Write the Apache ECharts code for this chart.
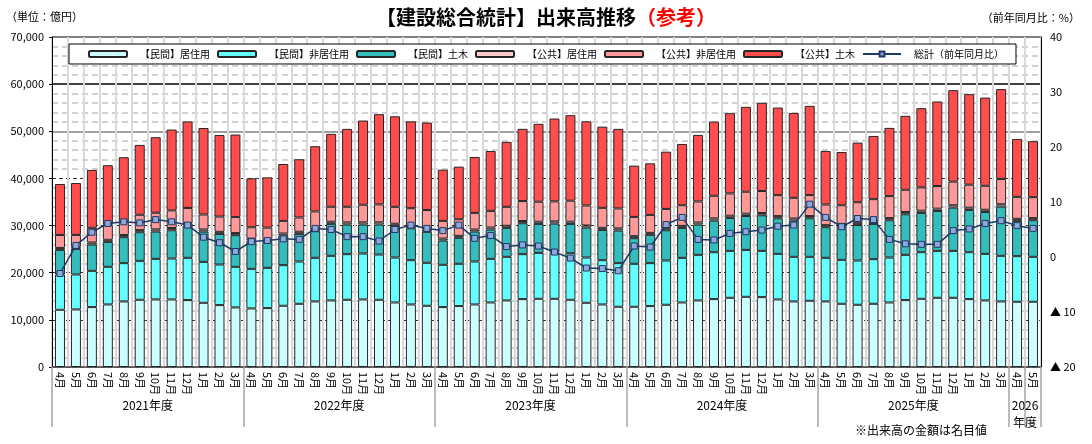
<!DOCTYPE html>
<html lang="ja">
<head>
<meta charset="utf-8">
<title>建設総合統計 出来高推移</title>
<script src="https://cdn.jsdelivr.net/npm/echarts@6/dist/echarts.min.js"></script>
<style>
  html, body { margin: 0; padding: 0; background: #fff; }
  #chart { width: 1092px; height: 444px; }
</style>
</head>
<body>
<div id="chart"></div>
<script>
// 月（2021年4月〜2026年5月）
const months = [
  '4月', '5月', '6月', '7月', '8月', '9月', '10月', '11月', '12月', '1月', '2月', '3月',
  '4月', '5月', '6月', '7月', '8月', '9月', '10月', '11月', '12月', '1月', '2月', '3月',
  '4月', '5月', '6月', '7月', '8月', '9月', '10月', '11月', '12月', '1月', '2月', '3月',
  '4月', '5月', '6月', '7月', '8月', '9月', '10月', '11月', '12月', '1月', '2月', '3月',
  '4月', '5月', '6月', '7月', '8月', '9月', '10月', '11月', '12月', '1月', '2月', '3月',
  '4月', '5月',
];
const fiscalYears = ['2021年度', '2022年度', '2023年度', '2024年度', '2025年度', '2026\n年度'];

// 出来高（億円）
const privateResidential = [
  12140, 12210, 12710, 13270, 13910, 14260, 14330, 14330, 14190, 13620, 13130, 12640,
  12420, 12490, 12990, 13410, 13910, 14120, 14260, 14330, 14260, 13690, 13270, 12990,
  12710, 12920, 13270, 13690, 14120, 14400, 14470, 14470, 14260, 13620, 13270, 12780,
  12780, 12920, 13200, 13690, 14120, 14400, 14680, 14890, 14820, 14330, 13910, 14050,
  13910, 13410, 13200, 13410, 13690, 14190, 14470, 14680, 14680, 14400, 14120, 13910,
  13840, 13840,
];
const privateNonResidential = [
  7480, 7410, 7690, 7980, 8120, 8260, 8610, 8680, 8970, 8680, 8610, 8610,
  8400, 8540, 8610, 8970, 9250, 9460, 9670, 9740, 9600, 9530, 9390, 9110,
  8970, 8970, 9110, 9250, 9250, 9530, 9740, 9810, 9880, 9600, 9390, 9250,
  9110, 9110, 9390, 9460, 9670, 9950, 9950, 9950, 9810, 9670, 9460, 9320,
  9250, 9320, 9390, 9460, 9530, 9600, 9880, 9950, 9950, 9950, 9880, 9670,
  9670, 9530,
];
const privateCivil = [
  5220, 5440, 5580, 5290, 5510, 6070, 5790, 6000, 6850, 6420, 6490, 6710,
  6000, 5510, 6280, 5860, 5650, 6780, 6280, 6140, 6350, 6710, 6780, 6570,
  5150, 5510, 6350, 6210, 6140, 6570, 6140, 6140, 6210, 6350, 6420, 6920,
  5440, 6000, 6420, 6350, 6420, 6710, 6990, 7200, 7550, 7550, 7690, 8190,
  6490, 7200, 7550, 7480, 7910, 8610, 8330, 8470, 9180, 8970, 8890, 10450,
  7480, 7770,
];
const publicResidential = [
  420, 420, 430, 440, 450, 450, 460, 470, 480, 450, 440, 450,
  420, 420, 430, 440, 450, 450, 460, 470, 480, 450, 440, 450,
  420, 420, 430, 440, 450, 460, 470, 470, 480, 450, 440, 450,
  420, 420, 430, 440, 450, 460, 470, 480, 490, 460, 450, 460,
  430, 430, 440, 450, 460, 470, 480, 490, 500, 480, 470, 490,
  440, 440,
];
const publicNonResidential = [
  2750, 2540, 3110, 3180, 2890, 3250, 3530, 3740, 3250, 3180, 3250, 3390,
  2400, 2610, 2680, 3040, 3740, 3180, 3320, 3740, 3810, 3600, 3810, 4170,
  3740, 3530, 3530, 3530, 4020, 4240, 4240, 4240, 4450, 4240, 4240, 4240,
  4090, 3810, 4090, 4380, 4450, 4800, 4730, 4660, 4660, 4450, 4380, 4450,
  4380, 3950, 4380, 4800, 4660, 4730, 4940, 4800, 5010, 4870, 5080, 5370,
  4660, 4450,
];
const publicCivil = [
  10800, 11010, 12280, 12640, 13620, 14820, 16020, 17150, 18350, 18350, 17300, 17510,
  10380, 10660, 12070, 12350, 13840, 15460, 16520, 17860, 19130, 19200, 18420, 18570,
  10870, 11150, 11860, 12710, 13770, 15320, 16520, 17580, 18140, 17860, 17220, 16870,
  10870, 10940, 12140, 12990, 14120, 15740, 17010, 18000, 18710, 18570, 18000, 18920,
  11370, 11290, 12640, 13410, 14470, 15670, 16800, 17930, 19410, 19200, 18710, 19060,
  12280, 11860,
];
// 総計の前年同月比（%）
const yoyChange = [
  -3.0, 2.1, 4.5, 6.1, 6.4, 6.2, 6.8, 6.4, 5.8, 3.6, 2.6, 1.0,
  2.8, 3.0, 3.3, 3.2, 5.2, 5.0, 3.7, 3.7, 2.9, 5.0, 5.8, 5.2,
  4.8, 5.8, 3.4, 3.9, 1.9, 2.2, 2.0, 0.9, -0.2, -2.0, -2.1, -2.5,
  2.0, 1.8, 5.9, 7.2, 3.2, 3.1, 4.3, 4.6, 4.9, 5.6, 5.8, 9.6,
  7.2, 5.5, 7.0, 6.8, 3.2, 2.4, 2.3, 2.3, 4.8, 5.1, 6.1, 6.6,
  5.7, 5.2,
];

const font = '"Noto Sans CJK JP", "Noto Sans", sans-serif';

// 年度の区切り（4月始まり）と年度ラベルの位置
const yearStarts = months.map((m, i) => (m === '4月' ? i : -1)).filter((i) => i >= 0);
const boundaries = yearStarts.concat([months.length]);
const yearAxisData = new Array(months.length + 1).fill('');
fiscalYears.forEach((label, k) => {
  const span = boundaries[k + 1] - boundaries[k];
  yearAxisData[boundaries[k] + Math.floor(span / 2)] = label;
});
const monthsPerYear = yearStarts[1] - yearStarts[0];

const barSeries = [
  ['【民間】居住用', privateResidential, '#CCFFFF'],
  ['【民間】非居住用', privateNonResidential, '#66FFFF'],
  ['【民間】土木', privateCivil, '#33BDBD'],
  ['【公共】居住用', publicResidential, '#FFCCCC'],
  ['【公共】非居住用', publicNonResidential, '#FF9999'],
  ['【公共】土木', publicCivil, '#FF4D4D'],
].map(([name, data, color]) => ({
  name,
  type: 'bar',
  stack: 'total',
  barWidth: 10,
  data,
  itemStyle: { color, borderColor: '#262626', borderWidth: 1 },
}));

const lineName = '総計（前年同月比）';

const chart = echarts.init(document.getElementById('chart'), null, { renderer: 'canvas' });
chart.setOption({
  animation: false,
  backgroundColor: '#fff',
  textStyle: { fontFamily: font },
  title: [
    {
      text: '{a|【建設総合統計】出来高推移}{b|（参考）}',
      left: 'center',
      top: 7,
      padding: 0,
      textStyle: {
        rich: {
          a: { fontSize: 20, fontWeight: 'bold', color: '#000', fontFamily: font },
          b: { fontSize: 20, fontWeight: 'bold', color: '#FF0000', fontFamily: font },
        },
      },
    },
    { text: '（単位：億円）', left: 6, top: 11, padding: 0, textStyle: { fontSize: 11, fontWeight: 'normal', color: '#000', fontFamily: font } },
    { text: '（前年同月比：%）', right: 12, top: 12, padding: 0, textStyle: { fontSize: 11, fontWeight: 'normal', color: '#000', fontFamily: font } },
    { text: '※出来高の金額は名目値', left: 855, top: 424, padding: 0, textStyle: { fontSize: 12, fontWeight: 'normal', color: '#000', fontFamily: font } },
  ],
  legend: {
    left: 69,
    top: 44,
    padding: [5, 12, 5, 19],
    itemWidth: 38,
    itemHeight: 6,
    itemGap: 7,
    backgroundColor: '#fff',
    borderColor: '#000',
    borderWidth: 1,
    textStyle: { fontSize: 10, color: '#000', fontFamily: font, padding: [0, 0, 0, 8] },
    data: barSeries.map((s) => s.name).concat([lineName]),
  },
  grid: {
    left: 52,
    right: 51,
    top: 37,
    bottom: 77,
    show: true,
    borderColor: '#000',
    borderWidth: 1,
    backgroundColor: '#fff',
  },
  xAxis: [
    {
      type: 'category',
      data: months,
      axisLine: { lineStyle: { color: '#595959', width: 1.5 } },
      // 年度の区切り線（各年度の4月の左端と右端）
      axisTick: {
        show: true,
        interval: monthsPerYear - 1,
        length: 60,
        lineStyle: { color: '#a6a6a6', width: 1.5 },
      },
      axisLabel: { interval: 0, rotate: -90, margin: 5, fontSize: 11, color: '#000', fontFamily: font },
      splitLine: { show: true, interval: 0, lineStyle: { color: '#d9d9d9', width: 2 } },
    },
    {
      type: 'category',
      data: yearAxisData,
      boundaryGap: false,
      position: 'bottom',
      axisLine: { show: false },
      axisTick: { show: false },
      axisLabel: {
        interval: (i, v) => v !== '',
        margin: 30,
        fontSize: 12,
        lineHeight: 17,
        color: '#000',
        fontFamily: font,
      },
      splitLine: { show: false },
    },
  ],
  yAxis: [
    {
      type: 'value',
      min: 0,
      max: 70000,
      interval: 10000,
      position: 'left',
      axisLine: { show: true, lineStyle: { color: '#000' } },
      axisTick: { show: true, length: 3, lineStyle: { color: '#000' } },
      axisLabel: {
        margin: 8,
        fontSize: 11,
        color: '#000',
        fontFamily: font,
        formatter: (v) => v.toLocaleString('en-US'),
      },
      splitLine: {
        lineStyle: {
          color: ['#333', '#333', '#333', '#333', '#333', 'transparent', 'transparent', 'transparent'],
          type: [4, 3],
          width: 1,
        },
      },
      minorTick: { show: false, splitNumber: 5 },
      minorSplitLine: { show: true, lineStyle: { color: '#c4c4c4', type: [6, 4], width: 1.5 } },
    },
    {
      type: 'value',
      min: -20,
      max: 40,
      interval: 10,
      position: 'right',
      axisLine: { show: true, lineStyle: { color: '#000' } },
      axisTick: { show: false },
      axisLabel: {
        margin: 9,
        fontSize: 11,
        color: '#000',
        fontFamily: font,
        formatter: (v) => (v < 0 ? '▲ ' + -v : String(v)),
      },
      splitLine: { show: false },
    },
    {
      // 50,000 と 60,000 の実線
      type: 'value',
      min: 0,
      max: 70000,
      interval: 10000,
      position: 'left',
      axisLine: { show: false },
      axisTick: { show: false },
      axisLabel: { show: false },
      splitLine: {
        lineStyle: {
          color: ['transparent', 'transparent', 'transparent', 'transparent', 'transparent', '#7f7f7f', '#000', 'transparent'],
          width: 1.5,
        },
      },
    },
  ],
  series: barSeries.concat([
    {
      name: lineName,
      type: 'line',
      yAxisIndex: 1,
      data: yoyChange,
      symbol: 'rect',
      symbolSize: 6,
      z: 5,
      lineStyle: { color: '#1F3864', width: 1.5 },
      itemStyle: { color: '#8DA9DB', borderColor: '#1F3864', borderWidth: 1 },
    },
  ]),
});
</script>
</body>
</html>
